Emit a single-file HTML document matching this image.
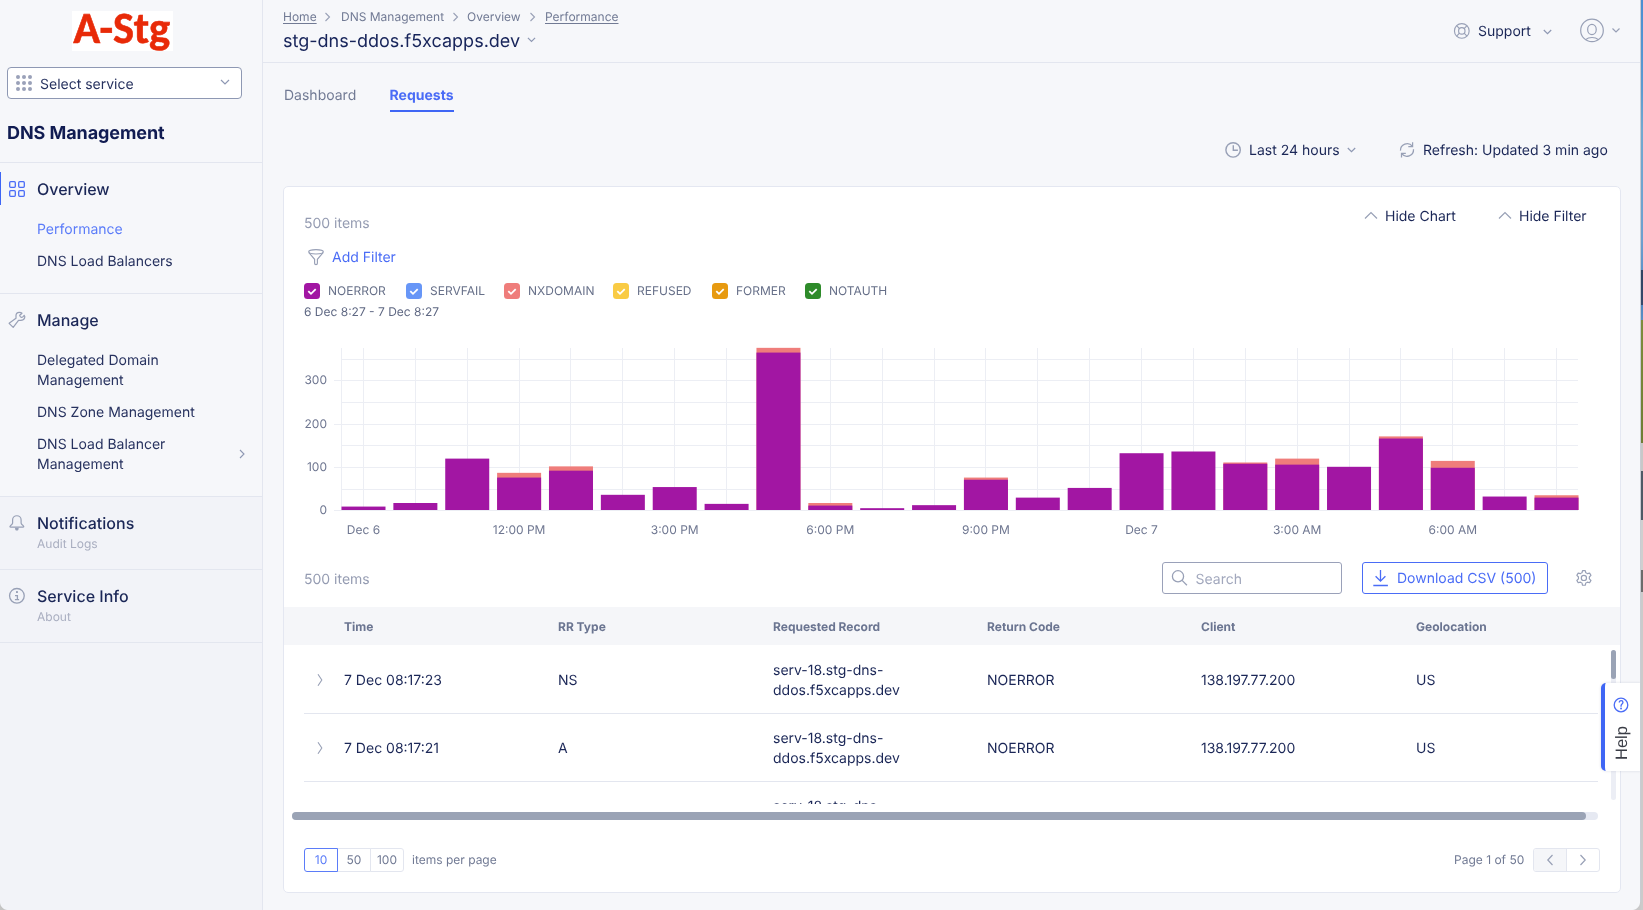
<!DOCTYPE html>
<html><head><meta charset="utf-8">
<style>
*{box-sizing:border-box;margin:0;padding:0}
html,body{width:1643px;height:910px;overflow:hidden}
body{text-rendering:geometricPrecision;font-family:"Inter","Liberation Sans",sans-serif;background:#f6f7fa;color:#1b2757;position:relative;-webkit-font-smoothing:antialiased}
.abs{position:absolute}
.t{position:absolute;white-space:nowrap;line-height:1}
/* sidebar */
#side{position:absolute;left:0;top:0;width:263px;height:910px;background:#f6f7fa;border-right:1px solid #e3e6ef}
.logo{position:absolute;left:72px;top:11px;width:101px;height:40px;background:#fff}
.logo span{position:absolute;left:1.2px;top:-10px;font-family:"Carlito","Liberation Sans",sans-serif;font-weight:700;font-size:44.5px;color:#e82a08;letter-spacing:-0.15px;-webkit-text-stroke:0.55px #e82a08}
.sel{position:absolute;left:7px;top:67px;width:235px;height:32px;border:1px solid #8e98b3;border-radius:4px;background:#fff}
.hr{position:absolute;left:0;width:262px;height:1px;background:#e3e6ef}
.navh{font-size:16px;font-weight:500;color:#1b2757}
.navi{font-size:14px;color:#27325f}
.sub{font-size:12px;color:#a9aec0}

.hrm{position:absolute;left:263px;width:1377px;height:1px;background:#e3e6ef}
.bc{font-size:12px;color:#717a94}
.u{text-decoration:underline;text-underline-offset:2px}
#card{position:absolute;left:283px;top:186px;width:1338px;height:707px;background:#fff;border:1px solid #e4e7f1;border-radius:5px}
.cb{position:absolute;top:283px;width:16px;height:16px;border-radius:3.5px}
.cb svg{position:absolute;left:0;top:0}
.lg{top:285px;font-size:12px;color:#677089}
.th{top:621px;font-size:12px;font-weight:700;color:#6b7591}
.row{position:absolute;left:20px;width:1294px;height:68px;border-bottom:1px solid #e3e6ef}
.row .t{margin-left:-20px}
.row svg{margin-left:-20px}
.td{font-size:14px;color:#1b2757}
.pg{top:848px;height:24px;border:1px solid #e3e6ef;font-size:12px;color:#717a94;text-align:center;line-height:22px;background:#fff}
</style></head>
<body><div id="root" style="position:absolute;left:0;top:0;width:1643px;height:910px;will-change:transform">
<div id="side">
  <div class="logo"><span>A-Stg</span></div>
  <div class="sel">
    <svg class="abs" style="left:8px;top:7px" width="16" height="16" viewBox="0 0 16 16">
      <g fill="#9aa1b9"><circle cx="2" cy="2" r="2"/><circle cx="8" cy="2" r="2"/><circle cx="14" cy="2" r="2"/><circle cx="2" cy="8" r="2"/><circle cx="8" cy="8" r="2"/><circle cx="14" cy="8" r="2"/><circle cx="2" cy="14" r="2"/><circle cx="8" cy="14" r="2"/><circle cx="14" cy="14" r="2"/></g>
    </svg>
    <span class="t" style="left:32px;top:10px;font-size:14px;color:#27325f">Select service</span>
    <svg class="abs" style="left:212px;top:11px" width="10" height="6" viewBox="0 0 10 6"><path d="M1 1l4 4 4-4" fill="none" stroke="#8e98b3" stroke-width="1.2"/></svg>
  </div>
  <span class="t" style="left:7px;top:125px;font-size:18px;font-weight:700;color:#111c52;letter-spacing:-0.08px">DNS Management</span>
  <div class="hr" style="top:162px"></div>
  <div class="abs" style="left:0;top:172px;width:1px;height:33px;background:#3f66f5"></div>
  <svg class="abs" style="left:9px;top:181px" width="16" height="16" viewBox="0 0 16 16"><g fill="none" stroke="#4a6cf7" stroke-width="1.3"><rect x="0.7" y="0.7" width="5.6" height="5.6" rx="1"/><rect x="9.7" y="0.7" width="5.6" height="5.6" rx="1"/><rect x="0.7" y="9.7" width="5.6" height="5.6" rx="1"/><rect x="9.7" y="9.7" width="5.6" height="5.6" rx="1"/></g></svg>
  <span class="t navh" style="left:37px;top:181px">Overview</span>
  <span class="t navi" style="left:37px;top:223px;color:#5b7cf9">Performance</span>
  <span class="t navi" style="left:37px;top:255px">DNS Load Balancers</span>
  <div class="hr" style="top:293px"></div>
  <svg class="abs" style="left:4px;top:306px" width="26" height="28" viewBox="4 306 26 28"><path d="M16 318.3L16 315.6C16 313.6 17.5 312.3 19.3 312.3C20.5 312.3 21.4 312.6 22 313.2L19.7 315.3C20 316.6 20.6 317.3 21.5 317.4C22.3 317.5 23.2 316.7 24.2 315.3C24.9 316 25 317 24.6 318C24 319.5 22.5 320.3 20.8 320.3L18.5 320.3L13.2 327.4L9.1 323.3Z" fill="none" stroke="#98a0b6" stroke-width="1.2" stroke-linejoin="round"/></svg>
  <span class="t navh" style="left:37px;top:312px">Manage</span>
  <span class="t navi" style="left:37px;top:354px">Delegated Domain</span>
  <span class="t navi" style="left:37px;top:374px">Management</span>
  <span class="t navi" style="left:37px;top:406px">DNS Zone Management</span>
  <span class="t navi" style="left:37px;top:438px">DNS Load Balancer</span>
  <span class="t navi" style="left:37px;top:458px">Management</span>
  <svg class="abs" style="left:239px;top:449px" width="6" height="10" viewBox="0 0 6 10"><path d="M1 1l4 4-4 4" fill="none" stroke="#8e98b3" stroke-width="1.1"/></svg>
  <div class="hr" style="top:496px"></div>
  <div class="abs" style="left:0;top:497px;width:262px;height:413px;background:#f2f3f8"></div>
  <div class="hr" style="top:569px"></div>
  <div class="hr" style="top:642px"></div>
  <svg class="abs" style="left:4px;top:508px" width="26" height="28" viewBox="4 508 26 28"><path d="M12.6 523.2V520A4.25 4.25 0 0 1 21.1 520V523.2Q21.3 524.5 23.3 525.8Q24.4 527.1 22.9 527.1H10.8Q9.3 527.1 10.4 525.8Q12.4 524.5 12.6 523.2Z" fill="none" stroke="#98a0b6" stroke-width="1.2" stroke-linejoin="round"/><path d="M14.9 527.8H18.8L18.3 529.9Q16.85 531.3 15.4 529.9Z" fill="#98a0b6"/></svg>
  <span class="t navh" style="left:37px;top:515px">Notifications</span>
  <span class="t sub" style="left:37px;top:538px">Audit Logs</span>
  <svg class="abs" style="left:4px;top:582px" width="26" height="28" viewBox="4 582 26 28"><g fill="none" stroke="#98a0b6" stroke-width="1.3"><circle cx="16.9" cy="595.85" r="7.35"/><path d="M15 595.6H17.4V599.7M14.9 599.6H19.1"/></g><rect x="16" y="591.1" width="1.9" height="1.9" fill="#98a0b6"/></svg>
  <span class="t navh" style="left:37px;top:588px">Service Info</span>
  <span class="t sub" style="left:37px;top:611px">About</span>
</div>

<!-- MAIN -->
<div class="hrm" style="top:62px"></div>
<span class="t bc u" style="left:283px;top:11px">Home</span>
<svg class="abs" style="left:324px;top:12px" width="7" height="10" viewBox="0 0 7 10"><path d="M1.5 1l4 4-4 4" fill="none" stroke="#98a0b6" stroke-width="1.1"/></svg>
<span class="t bc" style="left:341px;top:11px">DNS Management</span>
<svg class="abs" style="left:452px;top:12px" width="7" height="10" viewBox="0 0 7 10"><path d="M1.5 1l4 4-4 4" fill="none" stroke="#98a0b6" stroke-width="1.1"/></svg>
<span class="t bc" style="left:467px;top:11px">Overview</span>
<svg class="abs" style="left:529px;top:12px" width="7" height="10" viewBox="0 0 7 10"><path d="M1.5 1l4 4-4 4" fill="none" stroke="#98a0b6" stroke-width="1.1"/></svg>
<span class="t bc u" style="left:545px;top:11px">Performance</span>
<span class="t" style="left:283px;top:33px;font-size:18px;color:#17245a">stg-dns-ddos.f5xcapps.dev</span>
<svg class="abs" style="left:527px;top:37px" width="10" height="6" viewBox="0 0 10 6"><path d="M.9 .9l3.6 3.6L8.1 .9" fill="none" stroke="#8e98b3" stroke-width="1.2"/></svg>

<svg class="abs" style="left:1450px;top:20px" width="26" height="22" viewBox="1450 20 26 22"><g fill="none" stroke="#98a0b6" stroke-width="1.15"><circle cx="1461.8" cy="30.9" r="7.35"/><circle cx="1461.8" cy="30.9" r="3.2"/><path d="M1456.6 25.7l2.9 2.9M1467 25.7l-2.9 2.9M1456.6 36.1l2.9-2.9M1467 36.1l-2.9-2.9"/></g></svg>
<span class="t" style="left:1478px;top:25px;font-size:14px;color:#1b2757">Support</span>
<svg class="abs" style="left:1543px;top:29px" width="9" height="6" viewBox="0 0 9 6"><path d="M.8 1l3.7 3.7L8.2 1" fill="none" stroke="#8e98b3" stroke-width="1.2"/></svg>
<svg class="abs" style="left:1576px;top:15px" width="48" height="31" viewBox="1576 15 48 31"><g fill="none" stroke="#98a0b6" stroke-width="1.2"><circle cx="1592" cy="30.4" r="11.3"/><ellipse cx="1591.95" cy="29.45" rx="4.3" ry="5.1"/><path d="M1585.6 39.6c1.6-1.4 3.8-2.1 6.4-2.1s4.8.7 6.4 2.1"/><path d="M1612.5 28.5l3.5 3.5 3.5-3.5"/></g></svg>

<span class="t" style="left:284px;top:89px;font-size:14px;color:#717a94">Dashboard</span>
<span class="t" style="left:389.6px;top:89px;font-size:14px;font-weight:700;color:#4a6cf6">Requests</span>
<div class="abs" style="left:390px;top:110px;width:64px;height:2px;background:#3f66f5"></div>

<svg class="abs" style="left:1222px;top:140px" width="20" height="20" viewBox="1222 140 20 20"><g fill="none" stroke="#98a0b6" stroke-width="1.4"><circle cx="1233.1" cy="149.9" r="7.2"/><path d="M1233.3 145.2V150.3H1237.9"/></g></svg>
<span class="t" style="left:1249px;top:144px;font-size:14px;color:#1b2757">Last 24 hours</span>
<svg class="abs" style="left:1347px;top:147px" width="9" height="6" viewBox="0 0 9 6"><path d="M.8 1l3.7 3.7L8.2 1" fill="none" stroke="#8e98b3" stroke-width="1.2"/></svg>
<svg class="abs" style="left:1395px;top:138px" width="25" height="24" viewBox="1395 138 25 24"><g fill="none" stroke="#98a0b6" stroke-width="1.25"><path d="M1400.5 150.6A6.6 6.6 0 0 1 1412.3 146.2M1413.5 149.2A6.6 6.6 0 0 1 1401.7 153.7"/><path d="M1412.6 142.2v4.3h-4.3M1401.5 157.6v-4.2h4.3"/></g></svg>
<span class="t" style="left:1423px;top:144px;font-size:14px;color:#1b2757">Refresh: Updated 3 min ago</span>

<div id="card"></div>
<span class="t" style="left:304px;top:217px;font-size:14px;color:#959cb2">500 items</span>
<svg class="abs" style="left:1364px;top:211px" width="14" height="9" viewBox="0 0 14 9"><path d="M1 7.5l6-6 6 6" fill="none" stroke="#98a0b6" stroke-width="1.2"/></svg>
<span class="t" style="left:1385px;top:210px;font-size:14px;color:#1b2757">Hide Chart</span>
<svg class="abs" style="left:1498px;top:211px" width="14" height="9" viewBox="0 0 14 9"><path d="M1 7.5l6-6 6 6" fill="none" stroke="#98a0b6" stroke-width="1.2"/></svg>
<span class="t" style="left:1519px;top:210px;font-size:14px;color:#1b2757">Hide Filter</span>

<svg class="abs" style="left:305px;top:247px" width="22" height="20" viewBox="305 247 22 20"><g fill="none" stroke="#98a0b6" stroke-width="1.15"><ellipse cx="316" cy="251.8" rx="7.3" ry="2.2"/><path d="M308.9 252.6L314.6 259.3V263.2A1.4 1.4 0 0 0 317.4 263.2V259.3L323.1 252.6"/></g></svg>
<span class="t" style="left:332px;top:251px;font-size:14px;color:#4a6cf6">Add Filter</span>

<div class="cb" style="left:304px;background:#a216a3"><svg width="16" height="16" viewBox="0 0 16 16"><path d="M4.3 8.1L7 10.8 11.7 6.2" fill="none" stroke="#fff" stroke-width="1.8"/></svg></div><span class="t lg" style="left:328px">NOERROR</span>
<div class="cb" style="left:406px;background:#6796f7"><svg width="16" height="16" viewBox="0 0 16 16"><path d="M4.3 8.1L7 10.8 11.7 6.2" fill="none" stroke="#fff" stroke-width="1.8"/></svg></div><span class="t lg" style="left:430px">SERVFAIL</span>
<div class="cb" style="left:504px;background:#ef7d7b"><svg width="16" height="16" viewBox="0 0 16 16"><path d="M4.3 8.1L7 10.8 11.7 6.2" fill="none" stroke="#fff" stroke-width="1.8"/></svg></div><span class="t lg" style="left:528px">NXDOMAIN</span>
<div class="cb" style="left:613px;background:#f9cb44"><svg width="16" height="16" viewBox="0 0 16 16"><path d="M4.3 8.1L7 10.8 11.7 6.2" fill="none" stroke="#fff" stroke-width="1.8"/></svg></div><span class="t lg" style="left:637px">REFUSED</span>
<div class="cb" style="left:712px;background:#e79a10"><svg width="16" height="16" viewBox="0 0 16 16"><path d="M4.3 8.1L7 10.8 11.7 6.2" fill="none" stroke="#fff" stroke-width="1.8"/></svg></div><span class="t lg" style="left:736px">FORMER</span>
<div class="cb" style="left:805px;background:#2e8b2a"><svg width="16" height="16" viewBox="0 0 16 16"><path d="M4.3 8.1L7 10.8 11.7 6.2" fill="none" stroke="#fff" stroke-width="1.8"/></svg></div><span class="t lg" style="left:829px">NOTAUTH</span>
<span class="t" style="left:304px;top:306px;font-size:12px;color:#5f6883">6 Dec 8:27 - 7 Dec 8:27</span>

<svg class="abs" style="left:0;top:0" width="1643" height="910" viewBox="0 0 1643 910">
<g stroke="#eceef4" stroke-width="1"><line x1="334" y1="510.5" x2="1578" y2="510.5"/><line x1="341" y1="489.5" x2="1578" y2="489.5"/><line x1="334" y1="467.5" x2="1578" y2="467.5"/><line x1="341" y1="445.5" x2="1578" y2="445.5"/><line x1="334" y1="424.5" x2="1578" y2="424.5"/><line x1="341" y1="402.5" x2="1578" y2="402.5"/><line x1="334" y1="380.5" x2="1578" y2="380.5"/><line x1="341" y1="359.5" x2="1578" y2="359.5"/><line x1="341.5" y1="348" x2="341.5" y2="510"/><line x1="363.5" y1="348" x2="363.5" y2="510"/><line x1="415.5" y1="348" x2="415.5" y2="510"/><line x1="467.5" y1="348" x2="467.5" y2="510"/><line x1="519.5" y1="348" x2="519.5" y2="510"/><line x1="570.5" y1="348" x2="570.5" y2="510"/><line x1="622.5" y1="348" x2="622.5" y2="510"/><line x1="674.5" y1="348" x2="674.5" y2="510"/><line x1="726.5" y1="348" x2="726.5" y2="510"/><line x1="778.5" y1="348" x2="778.5" y2="510"/><line x1="830.5" y1="348" x2="830.5" y2="510"/><line x1="882.5" y1="348" x2="882.5" y2="510"/><line x1="934.5" y1="348" x2="934.5" y2="510"/><line x1="985.5" y1="348" x2="985.5" y2="510"/><line x1="1037.5" y1="348" x2="1037.5" y2="510"/><line x1="1089.5" y1="348" x2="1089.5" y2="510"/><line x1="1141.5" y1="348" x2="1141.5" y2="510"/><line x1="1193.5" y1="348" x2="1193.5" y2="510"/><line x1="1245.5" y1="348" x2="1245.5" y2="510"/><line x1="1297.5" y1="348" x2="1297.5" y2="510"/><line x1="1349.5" y1="348" x2="1349.5" y2="510"/><line x1="1400.5" y1="348" x2="1400.5" y2="510"/><line x1="1452.5" y1="348" x2="1452.5" y2="510"/><line x1="1504.5" y1="348" x2="1504.5" y2="510"/><line x1="1556.5" y1="348" x2="1556.5" y2="510"/></g>
<rect x="341.50" y="506.58" width="44" height="3.42" fill="#a216a3"/><rect x="393.37" y="503.00" width="44" height="7.00" fill="#a216a3"/><rect x="445.24" y="458.61" width="44" height="51.39" fill="#a216a3"/><rect x="497.11" y="472.83" width="44" height="37.17" fill="#ef7d7b"/><rect x="497.11" y="477.57" width="44" height="32.43" fill="#a216a3"/><rect x="548.98" y="466.37" width="44" height="43.63" fill="#ef7d7b"/><rect x="548.98" y="470.68" width="44" height="39.32" fill="#a216a3"/><rect x="600.85" y="494.81" width="44" height="15.19" fill="#a216a3"/><rect x="652.72" y="487.06" width="44" height="22.94" fill="#a216a3"/><rect x="704.59" y="503.87" width="44" height="6.13" fill="#a216a3"/><rect x="756.46" y="347.84" width="44" height="162.16" fill="#ef7d7b"/><rect x="756.46" y="352.58" width="44" height="157.42" fill="#a216a3"/><rect x="808.33" y="503.00" width="44" height="7.00" fill="#ef7d7b"/><rect x="808.33" y="505.59" width="44" height="4.41" fill="#a216a3"/><rect x="860.20" y="508.18" width="44" height="1.82" fill="#a216a3"/><rect x="912.07" y="505.16" width="44" height="4.84" fill="#a216a3"/><rect x="963.94" y="477.57" width="44" height="32.43" fill="#ef7d7b"/><rect x="963.94" y="479.73" width="44" height="30.27" fill="#a216a3"/><rect x="1015.81" y="497.62" width="44" height="12.38" fill="#a216a3"/><rect x="1067.68" y="487.92" width="44" height="22.08" fill="#a216a3"/><rect x="1119.55" y="453.22" width="44" height="56.78" fill="#a216a3"/><rect x="1171.42" y="451.50" width="44" height="58.50" fill="#a216a3"/><rect x="1223.29" y="462.49" width="44" height="47.51" fill="#ef7d7b"/><rect x="1223.29" y="463.78" width="44" height="46.22" fill="#a216a3"/><rect x="1275.16" y="458.61" width="44" height="51.39" fill="#ef7d7b"/><rect x="1275.16" y="464.64" width="44" height="45.36" fill="#a216a3"/><rect x="1327.03" y="466.80" width="44" height="43.20" fill="#a216a3"/><rect x="1378.90" y="436.41" width="44" height="73.59" fill="#ef7d7b"/><rect x="1378.90" y="438.53" width="44" height="71.47" fill="#a216a3"/><rect x="1430.77" y="460.90" width="44" height="49.10" fill="#ef7d7b"/><rect x="1430.77" y="467.79" width="44" height="42.21" fill="#a216a3"/><rect x="1482.64" y="496.54" width="44" height="13.46" fill="#a216a3"/><rect x="1534.51" y="495.25" width="44" height="14.75" fill="#ef7d7b"/><rect x="1534.51" y="497.62" width="44" height="12.38" fill="#a216a3"/>
<g font-family="Inter" font-size="12" fill="#6f7791"><text x="327" y="514.3" text-anchor="end">0</text><text x="327" y="471.3" text-anchor="end">100</text><text x="327" y="428.3" text-anchor="end">200</text><text x="327" y="384.3" text-anchor="end">300</text><text x="363.5" y="533.5" text-anchor="middle">Dec 6</text><text x="519.1" y="533.5" text-anchor="middle">12:00 PM</text><text x="674.7" y="533.5" text-anchor="middle">3:00 PM</text><text x="830.3" y="533.5" text-anchor="middle">6:00 PM</text><text x="985.9" y="533.5" text-anchor="middle">9:00 PM</text><text x="1141.5" y="533.5" text-anchor="middle">Dec 7</text><text x="1297.2" y="533.5" text-anchor="middle">3:00 AM</text><text x="1452.8" y="533.5" text-anchor="middle">6:00 AM</text></g>
</svg>

<span class="t" style="left:304px;top:573px;font-size:14px;color:#959cb2">500 items</span>
<div class="abs" style="left:1162px;top:562px;width:180px;height:32px;border:1px solid #9aa1b9;border-radius:3px;background:#fff"></div>
<svg class="abs" style="left:1171px;top:569px" width="18" height="18" viewBox="0 0 18 18"><g fill="none" stroke="#98a0b6" stroke-width="1.3"><circle cx="7" cy="7.3" r="5.6"/><path d="M11.1 11.4l4.8 4.9"/></g></svg>
<span class="t" style="left:1195.5px;top:573px;font-size:14px;color:#a2a8bd">Search</span>
<div class="abs" style="left:1362px;top:562px;width:186px;height:32px;border:1px solid #4a6cf6;border-radius:3px;background:#fff"></div>
<svg class="abs" style="left:1372px;top:569px" width="18" height="18" viewBox="0 0 18 18"><g fill="none" stroke="#4a6cf6" stroke-width="1.3"><path d="M8.5 1v10.8M3.6 7.2l4.9 4.9 4.9-4.9M1.3 16.5h14.6"/></g></svg>
<span class="t" style="left:1397px;top:572px;font-size:14px;color:#4a6cf6">Download CSV (500)</span>
<svg class="abs" style="left:1572px;top:566px" width="24" height="24" viewBox="1572 566 24 24"><g fill="none" stroke="#98a0b6" stroke-width="1.2" stroke-linejoin="round"><path d="M1582.00 572.74L1582.55 570.55L1585.25 570.55L1585.80 572.74A5.5 5.5 0 0 1 1587.42 573.67L1589.59 573.06L1590.94 575.39L1589.32 576.96A5.5 5.5 0 0 1 1589.32 578.84L1590.94 580.41L1589.59 582.74L1587.42 582.13A5.5 5.5 0 0 1 1585.80 583.06L1585.25 585.25L1582.55 585.25L1582.00 583.06A5.5 5.5 0 0 1 1580.38 582.13L1578.21 582.74L1576.86 580.41L1578.48 578.84A5.5 5.5 0 0 1 1578.48 576.96L1576.86 575.39L1578.21 573.06L1580.38 573.67A5.5 5.5 0 0 1 1582.00 572.74Z"/><circle cx="1583.9" cy="577.9" r="2.6"/></g></svg>

<div class="abs" style="left:284px;top:607px;width:1336px;height:38px;background:#f5f6f9"></div>
<span class="t th" style="left:344px">Time</span>
<span class="t th" style="left:558px">RR Type</span>
<span class="t th" style="left:773px">Requested Record</span>
<span class="t th" style="left:987px">Return Code</span>
<span class="t th" style="left:1201px">Client</span>
<span class="t th" style="left:1416px">Geolocation</span>

<div class="abs" style="left:284px;top:646px;width:1320px;height:158px;overflow:hidden">
  <div class="row" style="top:0">
    <svg class="abs" style="left:33px;top:27px" width="6" height="14" viewBox="0 0 6 14"><path d="M1 1.2l3.8 5.8L1 12.8" fill="none" stroke="#98a0b6" stroke-width="1.1"/></svg>
    <span class="t td" style="left:60px;top:28px">7 Dec 08:17:23</span>
    <span class="t td" style="left:274px;top:28px">NS</span>
    <span class="t td" style="left:489px;top:18px">serv-18.stg-dns-</span>
    <span class="t td" style="left:489px;top:38px">ddos.f5xcapps.dev</span>
    <span class="t td" style="left:703px;top:28px">NOERROR</span>
    <span class="t td" style="left:917px;top:28px">138.197.77.200</span>
    <span class="t td" style="left:1132px;top:28px">US</span>
  </div>
  <div class="row" style="top:68px">
    <svg class="abs" style="left:33px;top:27px" width="6" height="14" viewBox="0 0 6 14"><path d="M1 1.2l3.8 5.8L1 12.8" fill="none" stroke="#98a0b6" stroke-width="1.1"/></svg>
    <span class="t td" style="left:60px;top:28px">7 Dec 08:17:21</span>
    <span class="t td" style="left:274px;top:28px">A</span>
    <span class="t td" style="left:489px;top:18px">serv-18.stg-dns-</span>
    <span class="t td" style="left:489px;top:38px">ddos.f5xcapps.dev</span>
    <span class="t td" style="left:703px;top:28px">NOERROR</span>
    <span class="t td" style="left:917px;top:28px">138.197.77.200</span>
    <span class="t td" style="left:1132px;top:28px">US</span>
  </div>
  <div class="row" style="top:136px;border-bottom:0">
    <span class="t td" style="left:489px;top:18px">serv-18.stg-dns-</span>
  </div>
</div>
<div class="abs" style="left:1611px;top:650px;width:5px;height:150px;border-radius:3px;background:#eceef5"></div>
<div class="abs" style="left:1611px;top:650px;width:5px;height:29px;border-radius:3px;background:#9aa3b5"></div>
<div class="abs" style="left:292px;top:812px;width:1306px;height:8px;border-radius:4px;background:#e6e9f2"></div>
<div class="abs" style="left:292px;top:812px;width:1294px;height:8px;border-radius:4px;background:#9aa3b5"></div>

<div class="abs pg" style="left:304px;width:34px;border-color:#5b7cf8;color:#5b7cf8;z-index:2;border-radius:3px 0 0 3px">10</div>
<div class="abs pg" style="left:337px;width:34px">50</div>
<div class="abs pg" style="left:370px;width:34px;border-radius:0 3px 3px 0">100</div>
<span class="t" style="left:412px;top:854px;font-size:12px;color:#717a94">items per page</span>
<span class="t" style="left:1454px;top:854px;font-size:12px;color:#717a94">Page 1 of 50</span>
<div class="abs" style="left:1533px;top:848px;width:67px;height:24px;border:1px solid #e3e6ef;border-radius:3px;background:#fff;overflow:hidden">
  <div class="abs" style="left:0;top:0;width:33px;height:22px;background:#f5f6f9;border-right:1px solid #e3e6ef"></div>
  <svg class="abs" style="left:12px;top:5px" width="8" height="12" viewBox="0 0 8 12"><path d="M6.5 1L1.8 6l4.7 5" fill="none" stroke="#98a0b6" stroke-width="1.2"/></svg>
  <svg class="abs" style="left:45px;top:5px" width="8" height="12" viewBox="0 0 8 12"><path d="M1.5 1l4.7 5-4.7 5" fill="none" stroke="#98a0b6" stroke-width="1.2"/></svg>
</div>

<div class="abs" style="left:1601px;top:683px;width:40px;height:88px;background:#fff;border-left:4px solid #3f66f5;border-radius:5px 0 0 5px;box-shadow:0 0 3px rgba(30,40,80,.15)"></div>
<svg class="abs" style="left:1613px;top:697px" width="16" height="16" viewBox="0 0 16 16"><circle cx="8" cy="8" r="6.8" fill="none" stroke="#4a6cf6" stroke-width="1.3"/><path d="M6.3 5.6C6.3 4.3 7.1 3.6 8.15 3.6C9.25 3.6 9.95 4.3 9.95 5.3C9.95 6.3 9.4 6.8 8.8 7.3C8.2 7.8 8.05 8.3 8.05 9.1V9.7" fill="none" stroke="#4a6cf6" stroke-width="1.35"/><circle cx="8.05" cy="11.5" r=".95" fill="#4a6cf6"/></svg>
<div class="abs" style="left:1602.2px;top:734.75px;width:40px;height:16px;line-height:16px;text-align:center;font-family:'Liberation Sans',Arial,sans-serif;font-size:16.5px;color:#3a3d46;transform:rotate(-90deg)">Help</div>

<div class="abs" style="left:1640px;top:0;width:1px;height:910px;background:#c9ccd3"></div>
<div class="abs" style="left:1641px;top:0;width:2px;height:910px;background:linear-gradient(#4a8ed2 0,#5c9bd0 90px,#72a9d0 130px,#6d9fce 240px,#5d93c8 270px,#2f4462 270px,#34486a 305px,#4f86c0 305px,#5a8fc4 320px,#7d8c3c 320px,#6e7d34 443px,#c8c8c8 443px,#c8c8c8 471px,#4e5a66 471px,#4e5a66 520px,#cfcfcf 520px,#cfcfcf 570px,#6b6b6b 570px,#6b6b6b 592px,#cbcbcb 592px)"></div>
<div class="abs" style="left:1632px;top:902px;width:9px;height:8px;background:radial-gradient(circle at 0 0,#f6f7fa 7.5px,#c9c9c9 8.5px)"></div>
<div class="abs" style="left:0;top:902px;width:8px;height:8px;background:radial-gradient(circle at 100% 0,#f2f3f8 7.5px,#c4c4c4 8.5px)"></div>
</div></body></html>
